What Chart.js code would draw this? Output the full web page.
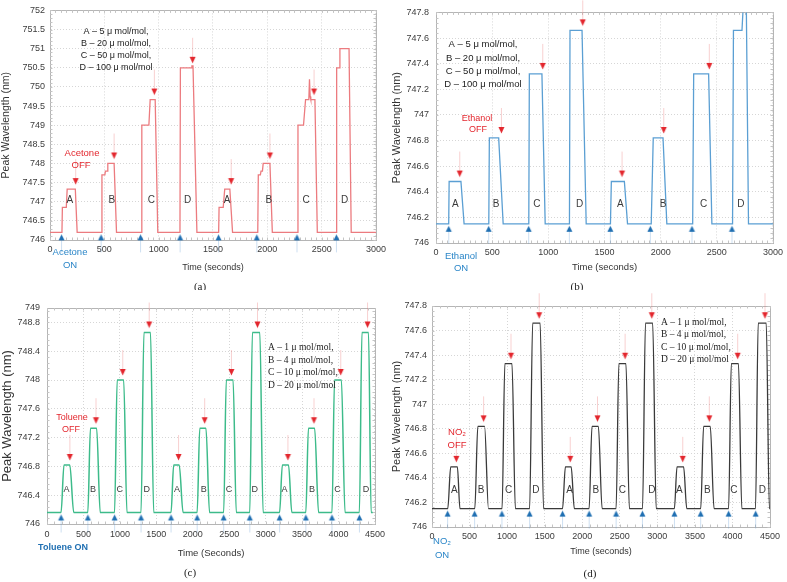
<!DOCTYPE html>
<html><head><meta charset="utf-8">
<script src="https://cdn.jsdelivr.net/npm/chart.js@4.4.1/dist/chart.umd.min.js"></script>
<style>
html,body{margin:0;padding:0;background:#fff;}
#wrap{position:relative;width:787px;height:582px;overflow:hidden;background:#fff;}
canvas{position:absolute;}
</style></head><body>
<div id="wrap">
<canvas id="ca" width="390" height="290" style="left:0;top:0"></canvas>
<canvas id="cb" width="397" height="290" style="left:390px;top:0"></canvas>
<canvas id="cc" width="390" height="292" style="left:0;top:290px"></canvas>
<canvas id="cd" width="397" height="292" style="left:390px;top:290px"></canvas>
</div>
<script>
// ---------------- DATA ----------------
// (a) Acetone
const aTime = [0,110,114,150,158,233,250, 474,478,505,510,528,532,590,612, 840,845,910,922,968,992, 1196,1200,1300,1306,1316,1352, 1552,1556,1594,1608,1655,1680, 1912,1917,1936,1942,1955,1962,2024,2046, 2277,2282,2333,2352,2382,2388,2394,2400,2438,2460, 2632,2638,2662,2668,2752,2772, 3000];
const aWave = [746.2,746.2,746.85,746.85,747.33,747.33,746.2, 746.2,747.7,747.7,747.8,747.8,748.0,748.0,746.2, 746.2,749.0,749.0,749.67,749.67,746.2, 746.2,750.5,750.5,750.55,750.55,746.2, 746.2,746.85,746.85,747.33,747.33,746.2, 746.2,747.7,747.7,747.8,747.8,748.0,748.0,746.2, 746.2,749.0,749.0,749.67,749.67,750.2,749.75,749.67,749.67,746.2, 746.2,750.5,750.5,751.0,751.0,746.2, 746.2];
const aOffTime = [236, 590, 960, 1312, 1667, 2024, 2430];
const aOffWave = [747.33, 748.0, 749.67, 750.5, 747.33, 748.0, 749.67];
const aOnTime = [106, 470, 833, 1197, 1551, 1903, 2273, 2636];
const aLetterTime = [182, 570, 933, 1267, 1630, 2015, 2358, 2712];
const aXTicks = [0, 500, 1000, 1500, 2000, 2500, 3000];
const aYTicks = [746, 746.5, 747, 747.5, 748, 748.5, 749, 749.5, 750, 750.5, 751, 751.5, 752];

// (b) Ethanol
const bTime = [0,113,117,222,250, 470,475,558,598, 826,831,943,972, 1188,1193,1300,1337, 1553,1561,1677,1705, 1916,1934,2021,2055, 2285,2294,2427,2456, 2640,2648,2724,2738,2762,2782, 3000];
const bWave = [746.15,746.15,746.48,746.48,746.15, 746.15,746.82,746.82,746.15, 746.15,747.32,747.32,746.15, 746.15,747.66,747.66,746.15, 746.15,746.48,746.48,746.15, 746.15,746.82,746.82,746.15, 746.15,747.32,747.32,746.15, 746.15,747.66,747.66,747.9,747.9,746.15, 746.15];
const bOffTime = [211, 582, 950, 1306, 1656, 2027, 2433];
const bOffWave = [746.48, 746.82, 747.32, 747.66, 746.48, 746.82, 747.32];
const bOnTime = [113, 469, 825, 1187, 1552, 1908, 2279, 2635];
const bLetterTime = [172, 534, 899, 1279, 1641, 2021, 2383, 2715];
const bXTicks = [0, 500, 1000, 1500, 2000, 2500, 3000];
const bYTicks = [746, 746.2, 746.4, 746.6, 746.8, 747, 747.2, 747.4, 747.6, 747.8];

// (c) Toluene
const cTime = [0, 193,233,313,367, 560,596,681,730, 927,963,1052,1097, 1290,1330,1420,1464, 1702,1738,1814,1867, 2060,2096,2181,2230, 2424,2460,2553,2597, 2782,2818,2920,2965, 3191,3229,3314,3359, 3551,3587,3672,3726, 3910,3945,4039,4089, 4286,4321,4411,4447, 4470];
const cWave = [746.16, 746.16,746.82,746.82,746.16, 746.16,747.33,747.33,746.16, 746.16,748.0,748.0,746.16, 746.16,748.66,748.66,746.16, 746.16,746.82,746.82,746.16, 746.16,747.33,747.33,746.16, 746.16,748.0,748.0,746.16, 746.16,748.66,748.66,746.16, 746.16,746.82,746.82,746.16, 746.16,747.33,747.33,746.16, 746.16,748.0,748.0,746.16, 746.16,748.66,748.66,746.16, 746.16];
const cOffTime = [313, 672, 1039, 1402, 1805, 2163, 2530, 2888, 3305, 3663, 4030, 4398];
const cOffWave = [746.82, 747.33, 748.0, 748.66, 746.82, 747.33, 748.0, 748.66, 746.82, 747.33, 748.0, 748.66];
const cOnTime = [193, 560, 927, 1290, 1702, 2060, 2424, 2782, 3191, 3551, 3910, 4286];
const cLetterTime = [269, 631, 999, 1370, 1782, 2149, 2498, 2852, 3260, 3636, 3985, 4376];
const cXTicks = [0, 500, 1000, 1500, 2000, 2500, 3000, 3500, 4000, 4500];
const cYTicks = [746, 746.4, 746.8, 747.2, 747.6, 748, 748.4, 748.8, 749];

// (d) NO2
const dTime = [0, 210,249,338,372, 570,610,700,752, 933,970,1065,1110, 1300,1340,1440,1485, 1738,1776,1853,1895, 2092,2130,2215,2265, 2451,2488,2582,2628, 2803,2842,2938,2985, 3227,3262,3350,3392, 3578,3616,3705,3755, 3949,3985,4080,4125, 4307,4343,4450,4492, 4500];
const dWave = [746.15, 746.15,746.49,746.49,746.15, 746.15,746.82,746.82,746.15, 746.15,747.33,747.33,746.15, 746.15,747.66,747.66,746.15, 746.15,746.49,746.49,746.15, 746.15,746.82,746.82,746.15, 746.15,747.33,747.33,746.15, 746.15,747.66,747.66,746.15, 746.15,746.49,746.49,746.15, 746.15,746.82,746.82,746.15, 746.15,747.33,747.33,746.15, 746.15,747.66,747.66,746.15, 746.15];
const dOffTime = [324, 687, 1051, 1427, 1840, 2203, 2571, 2926, 3338, 3692, 4069, 4433];
const dOffWave = [746.49, 746.82, 747.33, 747.66, 746.49, 746.82, 747.33, 747.66, 746.49, 746.82, 747.33, 747.66];
const dOnTime = [208, 567, 931, 1299, 1738, 2092, 2451, 2801, 3227, 3577, 3949, 4309];
const dLetterTime = [297, 652, 1020, 1383, 1831, 2181, 2535, 2926, 3293, 3666, 4020, 4397];
const dXTicks = [0, 500, 1000, 1500, 2000, 2500, 3000, 3500, 4000, 4500];
const dYTicks = [746, 746.2, 746.4, 746.6, 746.8, 747, 747.2, 747.4, 747.6, 747.8];

const letters8 = ['A','B','C','D','A','B','C','D'];
const letters12 = ['A','B','C','D','A','B','C','D','A','B','C','D'];

// ---------------- RENDERING ----------------
const SANS = "'Liberation Sans', Arial, sans-serif";
const SERIF = "'Liberation Serif', 'Times New Roman', serif";
const RED = '#e3262d', BLUE = '#2b86c8';

function markerImg(up) {
  const c = document.createElement('canvas'); c.width = 9; c.height = 64;
  const g = c.getContext('2d'); const m = 32;
  if (!up) {
    g.strokeStyle = 'rgba(235,120,120,0.35)'; g.lineWidth = 1;
    g.beginPath(); g.moveTo(4.5, m - 30); g.lineTo(4.5, m - 10); g.stroke();
    g.fillStyle = RED; g.beginPath(); g.moveTo(1.5, m - 11); g.lineTo(7.5, m - 11); g.lineTo(4.5, m - 4.5); g.closePath(); g.fill();
  } else {
    g.strokeStyle = 'rgba(90,150,210,0.3)'; g.lineWidth = 1;
    g.beginPath(); g.moveTo(4.5, m + 7); g.lineTo(4.5, m + 20); g.stroke();
    g.fillStyle = '#1f6fb2'; g.beginPath(); g.moveTo(1.5, m + 8); g.lineTo(7.5, m + 8); g.lineTo(4.5, m + 2); g.closePath(); g.fill();
  }
  return c;
}
const redImg = markerImg(false), blueImg = markerImg(true);

const notesPlugin = {
  id: 'notes',
  beforeDatasetsDraw(chart, args, o) {
    const {ctx, chartArea: a} = chart; const xs = chart.scales.x, ys = chart.scales.y;
    ctx.save();
    ctx.strokeStyle = '#b5b5b5'; ctx.lineWidth = 1;
    ctx.strokeRect(Math.round(a.left) + 0.5, Math.round(a.top) + 0.5, Math.round(a.right - a.left), Math.round(a.bottom - a.top));
    ctx.strokeStyle = '#c4c4c4';
    ctx.beginPath();
    for (let v = xs.min; v <= xs.max + 1e-6; v += o.xMinor) {
      const p = Math.round(xs.getPixelForValue(v)) + 0.5;
      ctx.moveTo(p, a.top); ctx.lineTo(p, a.top + 2.5);
      ctx.moveTo(p, a.bottom); ctx.lineTo(p, a.bottom - 2.5);
    }
    for (let v = ys.min; v <= ys.max + 1e-6; v += o.yMinor) {
      const p = Math.round(ys.getPixelForValue(v)) + 0.5;
      ctx.moveTo(a.left, p); ctx.lineTo(a.left + 2.5, p);
      ctx.moveTo(a.right, p); ctx.lineTo(a.right - 2.5, p);
    }
    ctx.stroke();
    ctx.restore();
  },
  afterDatasetsDraw(chart, args, o) {
    const ctx = chart.ctx; const xs = chart.scales.x, ys = chart.scales.y;
    ctx.save();
    ctx.textAlign = 'center'; ctx.textBaseline = 'middle';
    ctx.font = o.letterFont; ctx.fillStyle = '#3a3a3a';
    o.letterNames.forEach((n, i) => ctx.fillText(n, xs.getPixelForValue(o.letterTime[i]), ys.getPixelForValue(o.letterLevel)));
    (o.texts || []).forEach(t => {
      ctx.font = t.font; ctx.fillStyle = t.color; ctx.textAlign = t.align || 'center';
      ctx.fillText(t.text, t.x, t.y);
    });
    ctx.restore();
  }
};

function pts(xs, ys) { return xs.map((x, i) => ({x: x, y: ys[i]})); }

function build(id, c) {
  return new Chart(document.getElementById(id), {
    type: 'line',
    data: { datasets: [
      { data: pts(c.time, c.wave), borderColor: c.color, borderWidth: c.lw, pointRadius: 0,
        cubicInterpolationMode: c.smooth ? 'monotone' : 'default', tension: 0, fill: false },
      { data: pts(c.offTime, c.offWave), showLine: false, pointStyle: redImg, pointRadius: 3, clip: false },
      { data: pts(c.onTime, c.onTime.map(() => c.base)), showLine: false, pointStyle: blueImg, pointRadius: 3, clip: false }
    ]},
    options: {
      responsive: false, animation: false, events: [],
      layout: { padding: c.pad },
      plugins: { legend: {display: false}, tooltip: {enabled: false}, notes: c.notes },
      scales: {
        x: { type: 'linear', min: c.xTicks[0], max: c.xTicks[c.xTicks.length - 1],
          afterBuildTicks: s => { s.ticks = c.xTicks.map(v => ({value: v})); },
          afterFit: s => { s.height = 35; },
          ticks: { autoSkip: false, maxRotation: 0, padding: c.xtp, color: '#3c3c3c', font: {family: SANS, size: 9}, callback: v => String(v) },
          grid: { color: '#d6d6d6', drawTicks: false, lineWidth: 1 },
          border: { display: true, color: '#b5b5b5', dash: [1, 2] },
          title: { display: true, text: c.xTitle, color: '#333', font: {family: SANS, size: c.xtSize}, padding: {top: 0, bottom: c.xtpb} } },
        y: { type: 'linear', min: c.yTicks[0], max: c.yTicks[c.yTicks.length - 1],
          afterBuildTicks: s => { s.ticks = c.yTicks.map(v => ({value: v})); },
          afterFit: s => { s.width = c.yw; },
          ticks: { autoSkip: false, padding: c.ytp, color: '#3c3c3c', font: {family: SANS, size: 9}, callback: v => String(v) },
          grid: { color: '#d6d6d6', drawTicks: false, lineWidth: 1 },
          border: { display: true, color: '#b5b5b5', dash: [1, 2] },
          title: { display: true, text: 'Peak Wavelength (nm)', color: '#333', font: {family: SANS, size: c.ytSize}, padding: {top: c.ytpt, bottom: 0} } }
      }
    },
    plugins: [notesPlugin]
  });
}

const legAB = (x, ys, vals, font) => vals.map((t, i) => ({text: t, x: x, y: ys[i], color: '#222', font: font}));
const legA = ['A – 5 μ mol/mol,', 'B – 20 μ mol/mol,', 'C – 50 μ mol/mol,', 'D – 100 μ mol/mol'];
const legC = ['A – 1 μ mol/mol,', 'B – 4 μ mol/mol,', 'C – 10 μ mol/mol,', 'D – 20 μ mol/mol'];

build('ca', {
  time: aTime, wave: aWave, offTime: aOffTime, offWave: aOffWave, onTime: aOnTime, base: 746.2,
  xTicks: aXTicks, yTicks: aYTicks, color: '#ec7b7f', lw: 1.3, smooth: false,
  pad: {left: 0, right: 10, top: 6, bottom: 15}, yw: 50, xtp: 4, ytp: 5, ytpt: 0, xtpb: 2, xtSize: 9, ytSize: 10.5,
  xTitle: 'Time (seconds)',
  notes: { xMinor: 50, yMinor: 0.1, letterNames: letters8, letterTime: aLetterTime, letterLevel: 747.03, letterFont: '10px ' + SANS,
    texts: legAB(116, [32, 44, 56, 68], legA, '9px ' + SANS).concat([
      {text: 'Acetone', x: 82, y: 153, color: RED, font: '9.5px ' + SANS},
      {text: 'OFF', x: 81, y: 165, color: RED, font: '9.5px ' + SANS},
      {text: 'Acetone', x: 70, y: 252, color: BLUE, font: '9.5px ' + SANS},
      {text: 'ON', x: 70, y: 265, color: BLUE, font: '9.5px ' + SANS},
      {text: '(a)', x: 200, y: 287, color: '#222', font: '11px ' + SERIF}
    ]) }
});

build('cb', {
  time: bTime, wave: bWave, offTime: bOffTime, offWave: bOffWave, onTime: bOnTime, base: 746.15,
  xTicks: bXTicks, yTicks: bYTicks, color: '#5b9fd3', lw: 1.3, smooth: false,
  pad: {left: 0, right: 14, top: 8, bottom: 12}, yw: 46, xtp: 4, ytp: 7, ytpt: 0, xtpb: 5, xtSize: 9.5, ytSize: 11,
  xTitle: 'Time (seconds)',
  notes: { xMinor: 50, yMinor: 0.04, letterNames: letters8, letterTime: bLetterTime, letterLevel: 746.3, letterFont: '10px ' + SANS,
    texts: legAB(93, [44, 58, 71, 84], legA, '9.5px ' + SANS).concat([
      {text: 'Ethanol', x: 87, y: 119, color: RED, font: '9px ' + SANS},
      {text: 'OFF', x: 88, y: 130, color: RED, font: '9px ' + SANS},
      {text: 'Ethanol', x: 71, y: 256, color: BLUE, font: '9.5px ' + SANS},
      {text: 'ON', x: 71, y: 268, color: BLUE, font: '9.5px ' + SANS},
      {text: '(b)', x: 187, y: 287, color: '#222', font: '11px ' + SERIF}
    ]) }
});

build('cc', {
  time: cTime, wave: cWave, offTime: cOffTime, offWave: cOffWave, onTime: cOnTime, base: 746.16,
  xTicks: cXTicks, yTicks: cYTicks, color: '#3dbb8a', lw: 1.5, smooth: true,
  pad: {left: 0, right: 8, top: 18, bottom: 23}, yw: 47, xtp: 5, ytp: 7, ytpt: 0, xtpb: 0, xtSize: 9.5, ytSize: 13,
  xTitle: 'Time (Seconds)',
  notes: { xMinor: 100, yMinor: 0.08, letterNames: letters12, letterTime: cLetterTime, letterLevel: 746.48, letterFont: '9px ' + SANS,
    texts: legAB(268, [57, 70, 82, 95], legC, '9.5px ' + SERIF).map(t => Object.assign(t, {align: 'left'})).concat([
      {text: 'Toluene', x: 72, y: 128, color: RED, font: '9px ' + SANS},
      {text: 'OFF', x: 71, y: 140, color: RED, font: '9px ' + SANS},
      {text: 'Toluene ON', x: 63, y: 258, color: '#1f6fb2', font: 'bold 9px ' + SANS},
      {text: '(c)', x: 190, y: 283, color: '#222', font: '11px ' + SERIF}
    ]) }
});

build('cd', {
  time: dTime, wave: dWave, offTime: dOffTime, offWave: dOffWave, onTime: dOnTime, base: 746.15,
  xTicks: dXTicks, yTicks: dYTicks, color: '#3a3a3a', lw: 1.3, smooth: true,
  pad: {left: 0, right: 17, top: 16, bottom: 20}, yw: 42, xtp: 4, ytp: 5, ytpt: 0, xtpb: 5, xtSize: 9, ytSize: 11,
  xTitle: 'Time (seconds)',
  notes: { xMinor: 100, yMinor: 0.04, letterNames: letters12, letterTime: dLetterTime, letterLevel: 746.3, letterFont: '10px ' + SANS,
    texts: legAB(271, [32, 44.5, 57, 69.5], legC, '9.5px ' + SERIF).map(t => Object.assign(t, {align: 'left'})).concat([
      {text: 'NO₂', x: 67, y: 142, color: RED, font: '9.5px ' + SANS},
      {text: 'OFF', x: 67, y: 155, color: RED, font: '9.5px ' + SANS},
      {text: 'NO₂', x: 52, y: 251, color: BLUE, font: '9.5px ' + SANS},
      {text: 'ON', x: 52, y: 265, color: BLUE, font: '9.5px ' + SANS},
      {text: '(d)', x: 200, y: 284, color: '#222', font: '11px ' + SERIF}
    ]) }
});
</script>
</body></html>
